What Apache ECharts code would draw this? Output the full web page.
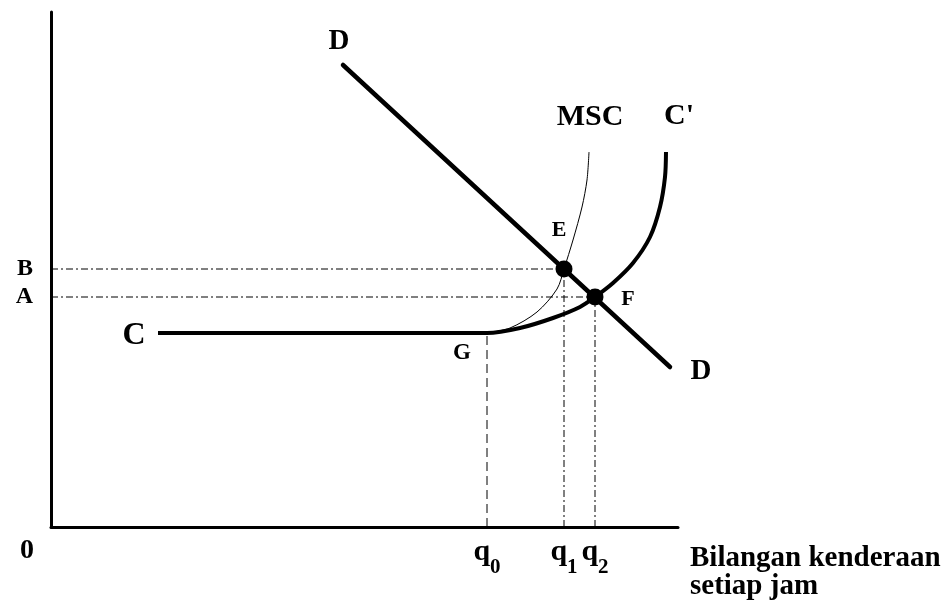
<!DOCTYPE html>
<html>
<head>
<meta charset="utf-8">
<script src="https://cdn.jsdelivr.net/npm/echarts@6/dist/echarts.min.js"></script>
<style>
html, body { margin: 0; padding: 0; background: #fff; }
#chart { width: 952px; height: 601px; }
</style>
</head>
<body>
<div id="chart"></div>
<script>
// curve points (x = vehicles per hour, y = cost)
const demandPts = [[292, 462], [619, 160]];
const costPts = [[107, 194], [436, 194], [469, 199], [502, 209], [529, 220], [544, 230], [562, 244], [582, 264], [599, 290], [609, 320], [614, 350], [615, 375]];
const mscPts = [[436, 194], [459, 199], [486, 215], [506, 238], [513, 258], [522, 287], [531, 320], [536, 347], [538, 375]];
const ptE = [513, 258];
const ptF = [544, 230];
const ptG = [436, 194];
const yTickNames = ['A', 'B'];
const xTickNames = ['0', 'q0', 'q1', 'q2'];

const serif = 'Liberation Serif';
const ink = '#000';

// labels for curve ends, [index, text, offset, size]
function withLabels(pts, labels) {
    return pts.map(function (p, i) {
        const lb = labels.find(function (l) { return l[0] === i; });
        if (!lb) return { value: p };
        return {
            value: p,
            label: {
                show: true,
                position: 'inside',
                formatter: lb[1],
                offset: lb[2],
                fontFamily: serif,
                fontWeight: 'bold',
                fontSize: lb[3] || 29,
                color: ink
            }
        };
    });
}

function guide(name, from, to, dash) {
    return {
        name: name,
        type: 'line',
        data: [from, to],
        symbol: 'none',
        silent: true,
        z: 1,
        lineStyle: { color: ink, width: 1, type: dash }
    };
}

const chart = echarts.init(document.getElementById('chart'));

const option = {
    backgroundColor: '#fff',
    animation: false,
    grid: { left: 51, right: 274, top: 12, bottom: 74, outerBoundsMode: 'none' },
    xAxis: {
        type: 'value',
        min: 0,
        max: 627,
        splitLine: { show: false },
        axisTick: { show: false },
        axisLine: { show: true, lineStyle: { color: ink, width: 3 } },
        axisLabel: {
            customValues: [0, ptG[0], ptE[0], ptF[0]],
            margin: 10,
            formatter: function (v) {
                if (v === 0) return '{o|' + xTickNames[0] + '}';
                const n = v === ptG[0] ? xTickNames[1] : (v === ptE[0] ? xTickNames[2] : xTickNames[3]);
                return '{q|' + n.charAt(0) + '}{s|' + n.charAt(1) + '}';
            },
            rich: {
                o: { fontFamily: serif, fontWeight: 'bold', fontSize: 28, color: ink, padding: [0, 48, 0, 0] },
                q: { fontFamily: serif, fontWeight: 'bold', fontSize: 30, color: ink, verticalAlign: 'top' },
                s: { fontFamily: serif, fontWeight: 'bold', fontSize: 21, color: ink, padding: [20, 0, 0, 0], verticalAlign: 'top' }
            }
        },
        name: 'Bilangan kenderaan\nsetiap jam',
        nameLocation: 'end',
        nameGap: 12,
        nameTextStyle: {
            fontFamily: serif,
            fontWeight: 'bold',
            fontSize: 29,
            lineHeight: 28,
            color: ink,
            align: 'left',
            verticalAlign: 'top',
            padding: [18, 0, 0, 0]
        }
    },
    yAxis: {
        type: 'value',
        min: 0,
        max: 515,
        splitLine: { show: false },
        axisTick: { show: false },
        axisLine: { show: true, lineStyle: { color: ink, width: 3 } },
        axisLabel: {
            customValues: [ptF[1], ptE[1]],
            margin: 18,
            fontFamily: serif,
            fontWeight: 'bold',
            fontSize: 24,
            color: ink,
            formatter: function (v) { return v === ptE[1] ? yTickNames[1] : yTickNames[0]; }
        }
    },
    series: [
        guide('B', [0, ptE[1]], ptE, [7, 3, 2, 3]),
        guide('A', [0, ptF[1]], ptF, [7, 3, 2, 3]),
        guide('q0', [ptG[0], 0], ptG, [9, 5]),
        guide('q1', [ptE[0], 0], ptE, [7, 3, 2, 3]),
        guide('q2', [ptF[0], 0], ptF, [7, 3, 2, 3]),
        {
            name: 'MSC',
            type: 'line',
            data: withLabels(mscPts, [[0, 'G', [-25, 20], 23], [mscPts.length - 1, 'MSC', [1, -35], 30]]),
            smooth: 0.3,
            symbol: 'circle',
            symbolSize: 0,
            z: 2,
            lineStyle: { color: ink, width: 1 }
        },
        {
            name: 'C',
            type: 'line',
            data: withLabels(costPts, [[0, 'C', [-24, 3], 32], [costPts.length - 1, "C'", [13, -36], 30]]),
            smooth: 0.3,
            symbol: 'circle',
            symbolSize: 0,
            z: 3,
            lineStyle: { color: ink, width: 4 }
        },
        {
            name: 'D',
            type: 'line',
            data: withLabels(demandPts, [[0, 'D', [-4, -23], 29], [1, 'D', [31, 5], 29]]),
            symbol: 'circle',
            symbolSize: 0,
            z: 4,
            lineStyle: { color: ink, width: 4.5, cap: 'round' }
        },
        {
            name: 'EF',
            type: 'scatter',
            data: withLabels([ptE, ptF], [[0, 'E', [-5, -39], 22], [1, 'F', [33, 2], 22]]),
            symbolSize: 17,
            z: 5,
            itemStyle: { color: ink, opacity: 1 }
        }
    ]
};

chart.setOption(option);
window.onresize = function () { chart.resize(); };
</script>
</body>
</html>
